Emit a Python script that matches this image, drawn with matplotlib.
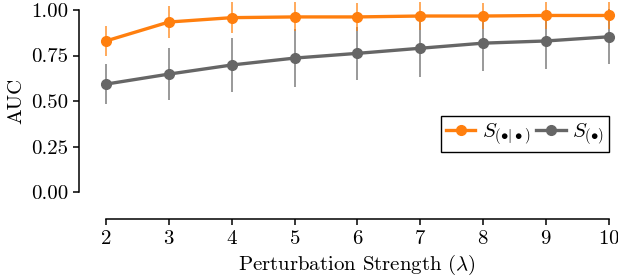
import matplotlib
matplotlib.use("Agg")
import matplotlib.pyplot as plt
from matplotlib.lines import Line2D

plt.rcParams["font.family"] = "serif"
plt.rcParams["font.serif"] = ["cmr10", "DejaVu Serif"]
plt.rcParams["mathtext.fontset"] = "cm"
plt.rcParams["axes.formatter.use_mathtext"] = True
plt.rcParams["font.size"] = 15

ORANGE = "#FF7F0E"
GRAY = "#666666"

strength = [2, 3, 4, 5, 6, 7, 8, 9, 10]
auc_cond = [0.830, 0.934, 0.958, 0.962, 0.962, 0.967, 0.967, 0.970, 0.970]
err_cond = [0.083, 0.090, 0.086, 0.080, 0.078, 0.075, 0.072, 0.072, 0.072]
auc_marg = [0.593, 0.648, 0.698, 0.736, 0.762, 0.790, 0.818, 0.830, 0.853]
err_marg = [0.110, 0.143, 0.148, 0.160, 0.147, 0.160, 0.153, 0.154, 0.150]

fig = plt.figure(figsize=(6.18, 2.78), dpi=100)
ax = fig.add_axes([0.1715, 0.309, 0.8139, 0.655])

ax.errorbar(strength, auc_marg, yerr=err_marg, color=GRAY, ecolor=(0.4, 0.4, 0.4, 0.85),
            elinewidth=1.1, lw=2.4, marker="o", ms=7, clip_on=False, zorder=2)
ax.errorbar(strength, auc_cond, yerr=err_cond, color=ORANGE, ecolor=(1.0, 0.5, 0.05, 0.85),
            elinewidth=1.1, lw=2.4, marker="o", ms=7, clip_on=False, zorder=3)

ax.set_xlim(2, 10)
ax.set_ylim(0, 1)
ax.set_xticks(strength)
ax.set_yticks([0, 0.25, 0.5, 0.75, 1.0])
ax.set_yticklabels(["0.00", "0.25", "0.50", "0.75", "1.00"])

for side in ["top", "right"]:
    ax.spines[side].set_visible(False)
for side in ["left", "bottom"]:
    ax.spines[side].set_position(("outward", 19.5))
    ax.spines[side].set_linewidth(1.1)
ax.tick_params(width=1.1, length=4, labelsize=15)

ax.set_xlabel(r"Perturbation Strength ($\lambda$)", fontsize=15)
ax.set_ylabel("AUC", fontsize=15)

handles = [Line2D([], [], color=ORANGE, lw=2.4, marker="o", ms=7),
           Line2D([], [], color=GRAY, lw=2.4, marker="o", ms=7)]
labels = [r"$S_{(\bullet|\bullet)}$", r"$S_{(\bullet)}$"]
leg = ax.legend(handles, labels, ncol=2, loc="lower right",
                bbox_to_anchor=(1.0, 0.22), borderaxespad=0, fancybox=False,
                framealpha=1, edgecolor="black", handlelength=1.4,
                columnspacing=0.3, handletextpad=0.3, borderpad=0.25,
                fontsize=15)
leg.get_frame().set_linewidth(1.0)

fig.savefig("out.png", dpi=100)
